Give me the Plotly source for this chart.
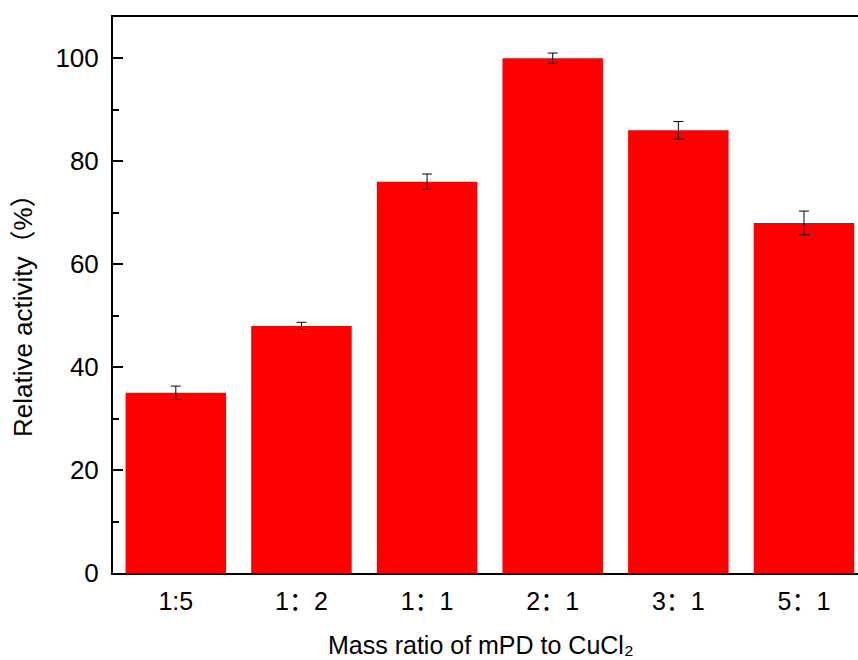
import plotly.graph_objects as go

categories = ["1:5", "1：2", "1：1", "2：1", "3：1", "5：1"]
activity = [35, 48, 76, 100, 86, 68]
errors = [1.3, 0.7, 1.5, 1.0, 1.7, 2.3]
y_ticks = [0, 20, 40, 60, 80, 100]
y_minor = [10, 30, 50, 70, 90]

x_title = "Mass ratio of mPD to CuCl₂"
y_title = "Relative activity（%）"

font_family = "Liberation Sans, Arial, Noto Sans CJK SC, sans-serif"

fig = go.Figure()
fig.add_trace(go.Bar(
    x=list(range(len(categories))),
    y=activity,
    width=0.8,
    marker=dict(color="#ff0000", line=dict(width=0)),
    error_y=dict(type="data", array=errors, visible=True, color="black", thickness=1, width=5),
))

fig.update_layout(
    width=858, height=660,
    margin=dict(l=113, r=0, t=17, b=87),
    plot_bgcolor="white", paper_bgcolor="white",
    showlegend=False,
    font=dict(family=font_family, color="black"),
    xaxis=dict(
        range=[-0.5, 5.43],
        tickmode="array",
        tickvals=list(range(len(categories))),
        ticktext=categories,
        ticks="",
        showline=True, linecolor="black", linewidth=2, mirror=True,
        showgrid=False, zeroline=False,
        tickfont=dict(size=25, family=font_family),
        ticklabelstandoff=5,
    ),
    yaxis=dict(
        range=[0, 108],
        tickmode="array",
        tickvals=y_ticks,
        ticks="inside", ticklen=10, tickwidth=2, tickcolor="black",
        minor=dict(tickvals=y_minor, ticks="inside", ticklen=6, tickwidth=2, tickcolor="black"),
        showline=True, linecolor="black", linewidth=2,
        showgrid=False, zeroline=False,
        tickfont=dict(size=26, family=font_family),
        ticklabelstandoff=7,
    ),
    annotations=[
        dict(text=x_title, xref="paper", yref="paper", x=0.4933, y=-0.13,
             xanchor="center", yanchor="middle", showarrow=False,
             font=dict(size=25, family=font_family)),
        dict(text=y_title, xref="paper", yref="paper", x=-0.12, y=0.474,
             xanchor="center", yanchor="middle", showarrow=False, textangle=-90,
             font=dict(size=26, family=font_family)),
    ],
)

fig.write_html(
    "out.html",
    config={"displayModeBar": False},
    post_script="document.body.style.margin='0';document.body.style.overflow='hidden';",
)
